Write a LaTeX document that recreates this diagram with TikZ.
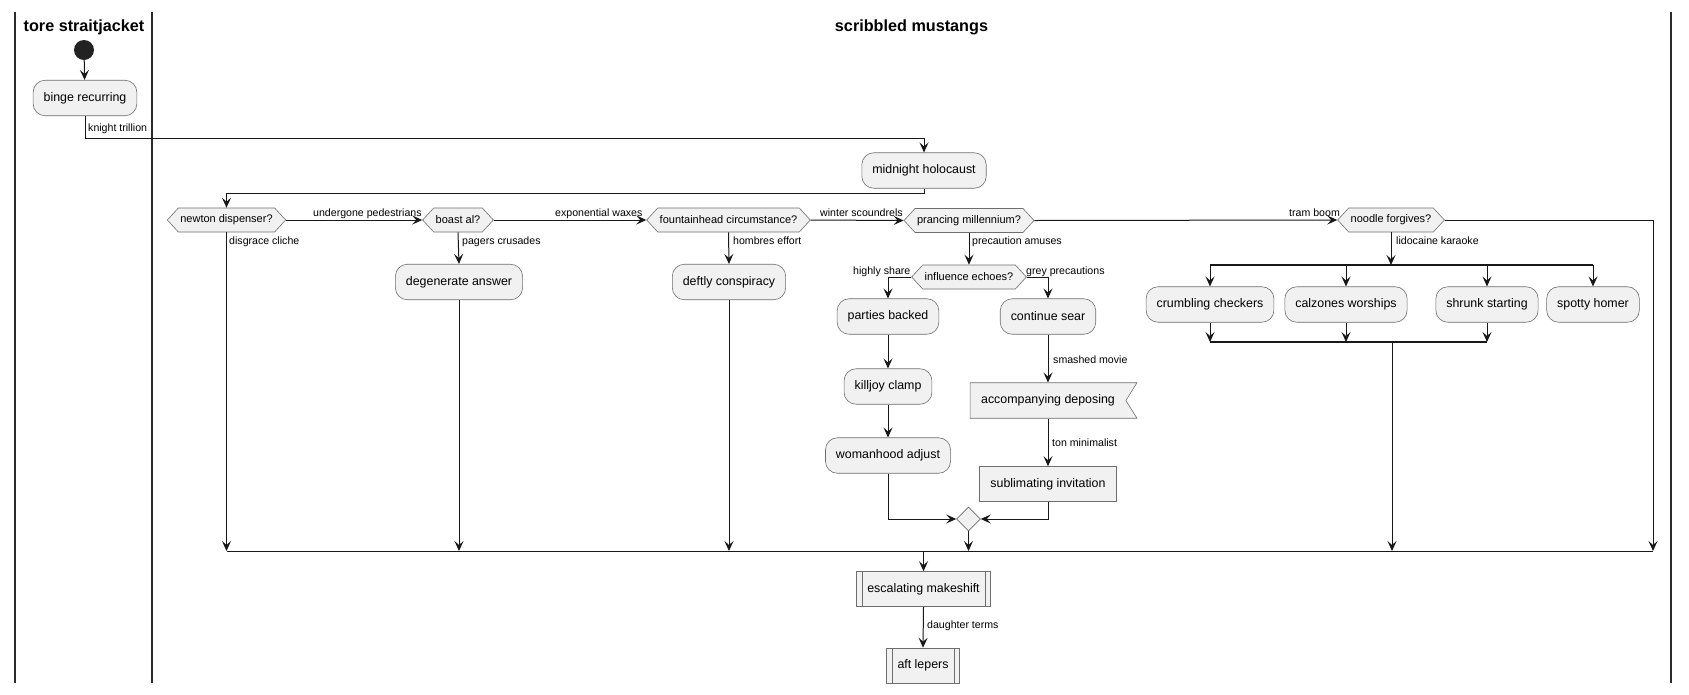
\documentclass[tikz,border=0pt]{standalone}
\usepackage{fontspec}
\setmainfont{Liberation Sans}
\usetikzlibrary{arrows.meta,shapes.symbols,shapes.geometric}
\definecolor{boxfill}{HTML}{F1F1F1}
\definecolor{lncol}{HTML}{181818}
\definecolor{bdcol}{HTML}{6E6E6E}
\definecolor{lanecol}{HTML}{2A2A2A}
\definecolor{dotcol}{HTML}{222222}
\begin{document}
\begin{tikzpicture}[x=1pt,y=-1pt,
  arr/.style={-{Stealth[length=10pt,width=9pt,inset=4pt]}, line width=1pt, draw=lncol},
  plain/.style={line width=1pt, draw=lncol},
  act/.style={rectangle, rounded corners=12pt, draw=bdcol, line width=0.6pt, fill=boxfill,
    minimum height=35.5pt, inner xsep=10.5pt, inner ysep=0pt, font=\fontsize{12.4}{14}\selectfont},
  dec/.style={signal, signal to=west and east, signal pointer angle=95, draw=bdcol, line width=0.6pt,
    fill=boxfill, minimum height=24pt, inner xsep=2pt, inner ysep=0pt, font=\fontsize{11}{13}\selectfont},
  flagbox/.style={signal, signal to=nowhere, signal from=east, signal pointer angle=116, draw=bdcol,
    line width=0.6pt, fill=boxfill, minimum height=35.5pt, inner xsep=11pt, inner ysep=0pt,
    font=\fontsize{12.4}{14}\selectfont},
  rectbox/.style={rectangle, draw=bdcol, line width=0.6pt, fill=boxfill, minimum height=35pt,
    inner xsep=11pt, inner ysep=0pt, font=\fontsize{12.4}{14}\selectfont},
  subbox/.style={rectbox, path picture={
    \draw[bdcol, line width=0.6pt] ([xshift=5.5pt]path picture bounding box.north west) -- ([xshift=5.5pt]path picture bounding box.south west);
    \draw[bdcol, line width=0.6pt] ([xshift=-5.5pt]path picture bounding box.north east) -- ([xshift=-5.5pt]path picture bounding box.south east);}},
  mergedia/.style={diamond, draw=bdcol, line width=0.6pt, fill=boxfill, minimum width=24pt, minimum height=24pt, inner sep=0pt},
  lab/.style={font=\fontsize{10.6}{12}\selectfont, inner sep=0pt, anchor=base west},
  lane/.style={line width=1.4pt, draw=lanecol},
  barline/.style={line width=2pt, draw=lncol},
  title/.style={font=\bfseries\fontsize{16.2}{19}\selectfont, inner sep=0pt, anchor=base}
]
\useasboundingbox (0,0) rectangle (1689,694);
% lanes
\coordinate (l1t) at (15,12);  \coordinate (l1b) at (15,683);
\coordinate (l2t) at (152,12); \coordinate (l2b) at (152,683);
\coordinate (l3t) at (1671,12); \coordinate (l3b) at (1671,683);
\draw[lane] (l1t) -- (l1b);
\draw[lane] (l2t) -- (l2b);
\draw[lane] (l3t) -- (l3b);
\node[title] (t1) at (84,31) {tore straitjacket};
\node[title] (t2) at (911.5,31) {scribbled mustangs};

% nodes
\node[circle, fill=dotcol, minimum size=20pt, inner sep=0pt] (start) at (84,50) {};
\node[act] (binge) at (85,98) {binge recurring};
\node[act] (mid) at (924,170.5) {midnight holocaust};
\node[dec] (newton) at (226.5,220) {newton dispenser?};
\node[dec] (boast) at (458,220) {boast al?};
\node[dec] (fount) at (728.5,220) {fountainhead circumstance?};
\node[dec] (pranc) at (969,220.5) {prancing millennium?};
\node[dec] (noodle) at (1391,220) {noodle forgives?};
\node[act] (degen) at (459,282) {degenerate answer};
\node[act] (deftly) at (729,282) {deftly conspiracy};
\node[dec] (infl) at (969,277) {influence echoes?};
\node[act] (parties) at (888,316.5) {parties backed};
\node[act] (killjoy) at (888,386.5) {killjoy clamp};
\node[act] (woman) at (888,455.5) {womanhood adjust};
\node[act] (cont) at (1048,316.5) {continue sear};
\node[flagbox] (acc) at (1048,400.5) {accompanying deposing};
\node[rectbox] (subl) at (1048,484) {sublimating invitation};
\node[mergedia] (mdia) at (968.5,519) {};
\node[subbox] (escal) at (923.5,589) {escalating makeshift};
\node[subbox] (aft) at (923,665.5) {aft lepers};
\node[act] (crumb) at (1210,304.5) {crumbling checkers};
\node[act] (calz) at (1346,304.5) {calzones worships};
\node[act] (shrunk) at (1487,304.5) {shrunk starting};
\node[act] (spotty) at (1593,304.5) {spotty homer};

% merge and fork bars
\coordinate (mergeL) at (227,551);
\coordinate (mergeR) at (1653,551);
\draw[plain] (mergeL) -- (mergeR);
\coordinate (forkL) at (1210,265);
\coordinate (forkR) at (1593,265);
\draw[barline] (forkL) -- (forkR);
\coordinate (joinL) at (1210,342);
\coordinate (joinR) at (1487,342);
\draw[barline] (joinL) -- (joinR);

% connectors
\draw[arr] (start) -- (binge);
\draw[arr] (binge.south) -- ++(0,22) -| (mid.north);
\draw[arr] (mid.south) -- ++(0,5) -| (newton.north);
\draw[arr] (newton.east) -- (boast.west);
\draw[arr] (boast.east) -- (fount.west);
\draw[arr] (fount.east) -- (pranc.west);
\draw[arr] (pranc.east) -- (noodle.west);
\draw[arr] (noodle.east) -| (mergeR);
\draw[arr] (newton.south) -- (newton.south |- mergeL);
\draw[arr] (boast.south) -- (degen.north);
\draw[arr] (degen.south) -- (degen.south |- mergeL);
\draw[arr] (fount.south) -- (deftly.north);
\draw[arr] (deftly.south) -- (deftly.south |- mergeL);
\draw[arr] (pranc.south) -- (infl.north);
\draw[arr] (infl.west) -| (parties.north);
\draw[arr] (parties) -- (killjoy);
\draw[arr] (killjoy) -- (woman);
\draw[arr] (woman.south) |- (mdia.west);
\draw[arr] (infl.east) -| (cont.north);
\draw[arr] (cont.south) -- (acc.north);
\draw[arr] (acc.south) -- (subl.north);
\draw[arr] (subl.south) |- (mdia.east);
\draw[arr] (mdia.south) -- (mdia.south |- mergeL);
\draw[arr] (escal.north |- mergeL) -- (escal.north);
\draw[arr] (escal.south) -- (aft.north);
\draw[arr] (noodle.south) -- (noodle.south |- forkL);
\draw[arr] (crumb.north |- forkL) -- (crumb.north);
\draw[arr] (calz.north |- forkL) -- (calz.north);
\draw[arr] (shrunk.north |- forkL) -- (shrunk.north);
\draw[arr] (spotty.north |- forkL) -- (spotty.north);
\draw[arr] (crumb.south) -- (crumb.south |- joinL);
\draw[arr] (calz.south) -- (calz.south |- joinL);
\draw[arr] (shrunk.south) -- (shrunk.south |- joinL);
\coordinate (joinOut) at (1392,342);
\draw[arr] (joinOut) -- (joinOut |- mergeL);

% labels
\node[lab] (lk) at (88,131) {knight trillion};
\node[lab] (lu) at (313,216) {undergone pedestrians};
\node[lab] (le) at (555,216) {exponential waxes};
\node[lab] (lw) at (820,216) {winter scoundrels};
\node[lab] (lt) at (1289,216) {tram boom};
\node[lab] (ld) at (229,244) {disgrace cliche};
\node[lab] (lp) at (462,244) {pagers crusades};
\node[lab] (lh) at (733,244) {hombres effort};
\node[lab] (lpa) at (972,244) {precaution amuses};
\node[lab] (lli) at (1396,244) {lidocaine karaoke};
\node[lab] (lhs) at (853,274) {highly share};
\node[lab] (lgp) at (1026,274) {grey precautions};
\node[lab] (lsm) at (1053,363) {smashed movie};
\node[lab] (ltm) at (1052,446) {ton minimalist};
\node[lab] (ldt) at (927,628) {daughter terms};
\end{tikzpicture}
\end{document}
